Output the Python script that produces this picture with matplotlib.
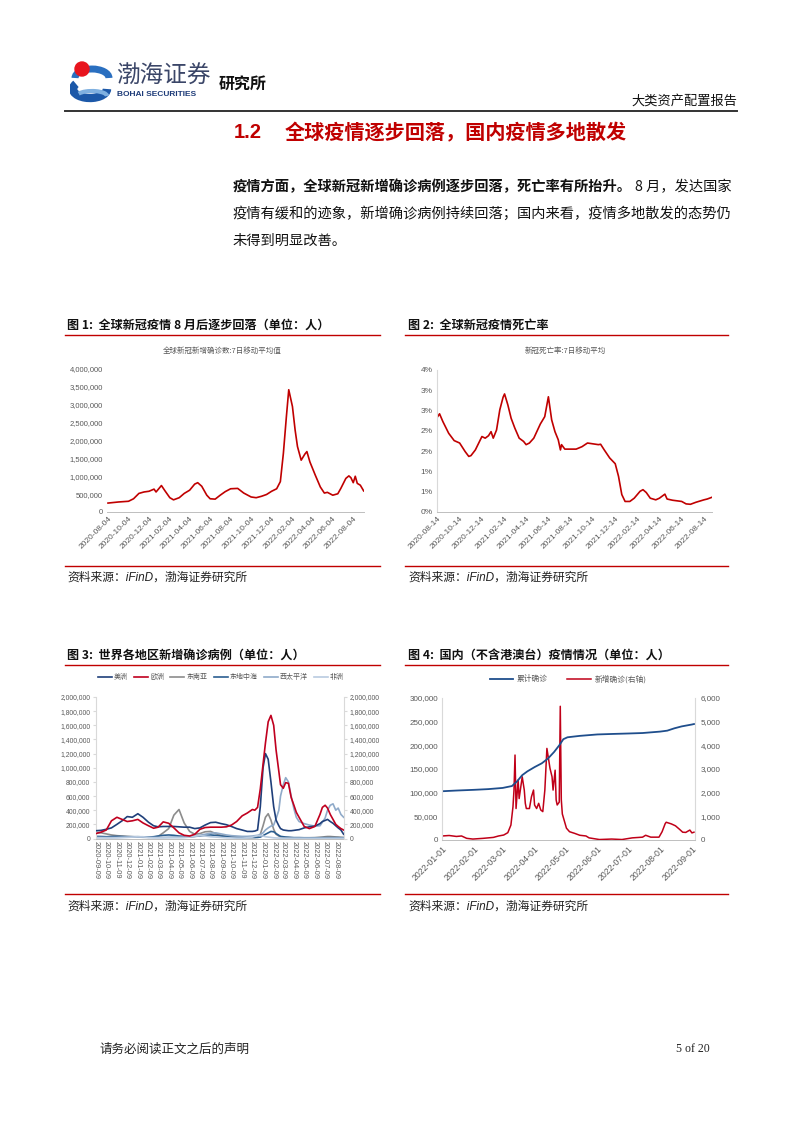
import matplotlib
matplotlib.use('Agg')
import matplotlib.pyplot as plt
from matplotlib.lines import Line2D
from matplotlib.patches import Circle, Arc
from matplotlib.ticker import FuncFormatter, MultipleLocator
import numpy as np
import pandas as pd

plt.rcParams['font.family'] = ['Liberation Sans', 'Noto Sans CJK SC', 'DejaVu Sans']
CJK = ['Noto Sans CJK SC', 'Liberation Sans', 'DejaVu Sans']

# ---------------- data ----------------
# chart 1: global new cases, 7d avg (thousands)
c1_dates = ['2020-08-04', '2020-09-04', '2020-10-04', '2020-10-19', '2020-11-04', '2020-11-19',
            '2020-12-04', '2020-12-19', '2020-12-25', '2021-01-10', '2021-01-20', '2021-02-04',
            '2021-02-15', '2021-03-04', '2021-03-19', '2021-04-04', '2021-04-19', '2021-04-28',
            '2021-05-10', '2021-05-25', '2021-06-04', '2021-06-19', '2021-07-04', '2021-07-19',
            '2021-08-04', '2021-08-25', '2021-09-12', '2021-10-04', '2021-10-19', '2021-11-04',
            '2021-11-19', '2021-12-04', '2021-12-19', '2021-12-30', '2022-01-08', '2022-01-17',
            '2022-01-24', '2022-02-04', '2022-02-12', '2022-02-19', '2022-03-02', '2022-03-13',
            '2022-03-19', '2022-03-28', '2022-04-13', '2022-04-28', '2022-05-10', '2022-05-19',
            '2022-06-04', '2022-06-19', '2022-06-28', '2022-07-13', '2022-07-22', '2022-07-28',
            '2022-08-04', '2022-08-10', '2022-08-16', '2022-08-25', '2022-09-04']
c1_cases = [250, 280, 300, 370, 520, 560, 580, 640, 560, 740, 600, 400, 340, 400, 520, 610, 780, 820,
            720, 470, 370, 360, 470, 570, 650, 660, 530, 420, 400, 440, 490, 580, 650, 850, 1640,
            2670, 3420, 2950, 2290, 1830, 1450, 1620, 1690, 1400, 1030, 700, 530, 550, 470, 510, 660,
            940, 1010, 960, 820, 1000, 800, 750, 590]
c1_ticks = ['2020-08-04', '2020-10-04', '2020-12-04', '2021-02-04', '2021-04-04', '2021-06-04',
            '2021-08-04', '2021-10-04', '2021-12-04', '2022-02-04', '2022-04-04', '2022-06-04',
            '2022-08-04']

# chart 2: death rate, 7d avg (%)
c2_dates = ['2020-08-14', '2020-08-20', '2020-08-29', '2020-09-14', '2020-09-29', '2020-10-14',
            '2020-10-29', '2020-11-08', '2020-11-14', '2020-11-26', '2020-12-14', '2020-12-23',
            '2021-01-01', '2021-01-08', '2021-01-14', '2021-01-23', '2021-02-01', '2021-02-10',
            '2021-02-14', '2021-02-23', '2021-03-04', '2021-03-14', '2021-03-26', '2021-04-07',
            '2021-04-14', '2021-04-23', '2021-05-05', '2021-05-23', '2021-06-04', '2021-06-14',
            '2021-06-23', '2021-07-02', '2021-07-11', '2021-07-17', '2021-07-20', '2021-07-29',
            '2021-08-14', '2021-08-29', '2021-09-14', '2021-09-29', '2021-10-14', '2021-10-29',
            '2021-11-04', '2021-11-14', '2021-11-29', '2021-12-14', '2021-12-23', '2022-01-01',
            '2022-01-10', '2022-01-23', '2022-02-04', '2022-02-20', '2022-02-28', '2022-03-09',
            '2022-03-20', '2022-04-04', '2022-04-14', '2022-04-23', '2022-04-29', '2022-05-05',
            '2022-05-20', '2022-06-14', '2022-06-26', '2022-07-08', '2022-07-23', '2022-08-14',
            '2022-08-23', '2022-09-04']
c2_rate = [2.34, 2.42, 2.23, 1.94, 1.76, 1.70, 1.49, 1.37, 1.39, 1.53, 1.86, 1.82, 1.88, 1.98, 1.82,
           2.02, 2.52, 2.83, 2.91, 2.64, 2.31, 2.07, 1.82, 1.74, 1.66, 1.70, 1.82, 2.17, 2.35, 2.84,
           2.27, 1.98, 1.78, 1.53, 1.66, 1.55, 1.55, 1.55, 1.61, 1.70, 1.68, 1.66, 1.67, 1.53, 1.33,
           1.19, 0.88, 0.43, 0.26, 0.26, 0.34, 0.51, 0.55, 0.48, 0.34, 0.30, 0.34, 0.40, 0.44, 0.32,
           0.29, 0.26, 0.20, 0.19, 0.24, 0.30, 0.32, 0.36]
c2_ticks = ['2020-08-14', '2020-10-14', '2020-12-14', '2021-02-14', '2021-04-14', '2021-06-14',
            '2021-08-14', '2021-10-14', '2021-12-14', '2022-02-14', '2022-04-14', '2022-06-14',
            '2022-08-14']

# chart 3: new cases by WHO region (thousands)
c3_dates = ['2020-09-09', '2020-09-24', '2020-10-09', '2020-10-24', '2020-11-09', '2020-11-24',
            '2020-12-09', '2020-12-24', '2021-01-09', '2021-01-24', '2021-02-09', '2021-02-24',
            '2021-03-09', '2021-03-24', '2021-04-09', '2021-04-24', '2021-05-09', '2021-05-24',
            '2021-06-09', '2021-06-24', '2021-07-09', '2021-07-24', '2021-08-09', '2021-08-24',
            '2021-09-09', '2021-09-24', '2021-10-09', '2021-10-24', '2021-11-09', '2021-11-24',
            '2021-12-09', '2021-12-16', '2021-12-24', '2022-01-01', '2022-01-09', '2022-01-16',
            '2022-01-24', '2022-02-01', '2022-02-09', '2022-02-16', '2022-02-24', '2022-03-01',
            '2022-03-09', '2022-03-16', '2022-03-24', '2022-04-01', '2022-04-09', '2022-04-16',
            '2022-04-24', '2022-05-09', '2022-05-24', '2022-06-09', '2022-06-24', '2022-07-01',
            '2022-07-09', '2022-07-16', '2022-07-24', '2022-08-01', '2022-08-09', '2022-08-16',
            '2022-08-24', '2022-09-01']
c3_americas = [110, 115, 130, 150, 200, 250, 310, 300, 350, 300, 230, 180, 165, 170, 170, 170, 165,
               160, 160, 140, 150, 190, 225, 230, 210, 195, 170, 140, 120, 100, 100,
               105, 120, 450, 1000, 1200, 1120, 800, 450, 260, 180, 140, 120, 115, 110, 110, 115, 120, 125,
               150, 165, 175, 210,
               240, 255, 270, 240, 215, 180, 150, 120, 60]
c3_europe = [70, 90, 120, 250, 300, 270, 240, 250, 270, 220, 180, 145, 160, 235, 215, 150, 80, 45,
             35, 60, 130, 155, 160, 160, 160, 165, 190, 240, 320, 360, 410,
             400, 440, 700, 1050, 1350, 1650, 1740, 1600, 1250, 950, 760, 710, 790, 780, 580, 470, 370, 300,
             170, 140, 170, 340,
             440, 470, 430, 340, 270, 200, 170, 140, 120]
c3_seasia = [85, 80, 65, 50, 40, 35, 30, 25, 20, 18, 18, 20, 30, 80, 140, 330, 410, 220, 100, 60,
             70, 95, 100, 70, 45, 35, 25, 20, 15, 15, 15,
             15, 20, 60, 180, 300, 350, 260, 130, 60, 35, 25, 20, 15, 12, 10, 10, 10, 10,
             10, 10, 12, 18,
             20, 25, 28, 28, 25, 22, 20, 18, 15]
c3_emed = [30, 28, 25, 28, 30, 28, 25, 25, 25, 22, 20, 25, 35, 45, 50, 45, 35, 30, 25, 30, 35, 45,
           50, 45, 35, 28, 20, 15, 15, 15, 15,
           15, 15, 20, 40, 60, 80, 100, 95, 70, 45, 30, 25, 20, 18, 15, 12, 12, 12,
           10, 10, 10, 10,
           12, 12, 12, 12, 12, 12, 12, 10, 10]
c3_wpac = [15, 15, 15, 15, 15, 18, 20, 20, 20, 18, 15, 15, 15, 15, 18, 20, 20, 20, 25, 30, 45, 60,
           75, 80, 65, 50, 40, 35, 30, 30, 35,
           40, 45, 55, 80, 120, 150, 175, 190, 280, 400, 600, 760, 860, 800, 600, 420, 300, 240,
           210, 190, 175, 180,
           230, 290, 400, 470, 490, 400, 430, 340, 300]
c3_africa = [10, 10, 8, 8, 10, 12, 15, 20, 25, 25, 15, 10, 10, 10, 10, 10, 10, 12, 20, 35, 40, 35,
             25, 20, 15, 10, 8, 6, 6, 10, 20,
             30, 40, 40, 35, 25, 20, 15, 10, 8, 6, 5, 5, 5, 5, 5, 5, 5, 5,
             5, 5, 5, 5,
             5, 5, 5, 5, 5, 5, 5, 5, 5]
c3_names = ['美洲', '欧洲', '东南亚', '东地中海', '西太平洋', '非洲']
c3_ticks = ['2020-09-09', '2020-10-09', '2020-11-09', '2020-12-09', '2021-01-09', '2021-02-09',
            '2021-03-09', '2021-04-09', '2021-05-09', '2021-06-09', '2021-07-09', '2021-08-09',
            '2021-09-09', '2021-10-09', '2021-11-09', '2021-12-09', '2022-01-09', '2022-02-09',
            '2022-03-09', '2022-04-09', '2022-05-09', '2022-06-09', '2022-07-09', '2022-08-09']

# chart 4: mainland China
c4_total_dates = ['2022-01-01', '2022-01-15', '2022-02-01', '2022-02-15', '2022-03-01', '2022-03-10',
                  '2022-03-15', '2022-03-20', '2022-03-25', '2022-04-01', '2022-04-08', '2022-04-14',
                  '2022-04-20', '2022-04-25', '2022-04-29', '2022-05-03', '2022-05-15', '2022-06-01',
                  '2022-06-15', '2022-07-01', '2022-07-15', '2022-08-01', '2022-08-08', '2022-08-15',
                  '2022-08-22', '2022-09-01', '2022-09-03']
c4_total = [103, 104.5, 106, 107.5, 110, 114, 124, 137, 145, 154, 162, 172, 186, 200, 213, 217, 220,
            223, 224, 225, 226, 229, 231, 236, 240, 244, 245]
c4_new_dates = ['2022-01-01', '2022-01-08', '2022-01-15', '2022-01-20', '2022-01-25', '2022-01-31',
                '2022-02-10', '2022-02-20', '2022-02-25', '2022-03-02', '2022-03-06', '2022-03-09',
                '2022-03-11', '2022-03-12', '2022-03-13', '2022-03-14', '2022-03-16', '2022-03-17',
                '2022-03-20', '2022-03-22', '2022-03-23', '2022-03-24', '2022-03-27', '2022-03-29',
                '2022-03-31', '2022-04-01', '2022-04-03', '2022-04-05', '2022-04-07', '2022-04-09',
                '2022-04-11', '2022-04-13', '2022-04-15', '2022-04-16', '2022-04-18', '2022-04-19',
                '2022-04-21', '2022-04-22', '2022-04-23', '2022-04-25', '2022-04-26', '2022-04-27',
                '2022-04-28', '2022-04-30', '2022-05-02', '2022-05-05', '2022-05-10', '2022-05-15',
                '2022-05-21', '2022-05-24', '2022-06-03', '2022-06-15', '2022-06-25', '2022-07-05',
                '2022-07-15', '2022-07-18', '2022-07-23', '2022-07-31', '2022-08-03', '2022-08-06',
                '2022-08-07', '2022-08-12', '2022-08-16', '2022-08-20', '2022-08-23', '2022-08-26',
                '2022-08-30', '2022-09-01', '2022-09-03']
c4_new = [170, 190, 150, 170, 70, 40, 70, 110, 170, 210, 310, 630, 1400, 2110, 3590, 1330, 2530,
          1750, 2670, 2110, 1550, 1330, 1330, 1830, 2110, 1480, 1330, 1550, 1270, 1200, 2110, 3870,
          3310, 3030, 2670, 2110, 2950, 1690, 1480, 1600, 5650, 1700, 1100, 800, 500, 350, 280, 200,
          170, 90, 20, 40, 20, 90, 120, 200, 120, 120, 350, 690, 750, 680, 600, 450, 330, 320, 420,
          300, 330]
c4_ticks = ['2022-01-01', '2022-02-01', '2022-03-01', '2022-04-01', '2022-05-01', '2022-06-01',
            '2022-07-01', '2022-08-01', '2022-09-01']

# ---------------- page ----------------
W, H = 802, 1133
fig = plt.figure(figsize=(W / 100, H / 100), dpi=100)

def px_axes(l, t, r, b):
    return fig.add_axes([l / W, 1 - b / H, (r - l) / W, (b - t) / H])

def ftext(x, y, s, **kw):
    return fig.text(x / W, 1 - y / H, s, **kw)

def hline(x0, x1, y, color, lw):
    fig.add_artist(Line2D([x0 / W, x1 / W], [1 - y / H, 1 - y / H], color=color, lw=lw))

RED = '#C00000'
GRAY = '#595959'
thousands = FuncFormatter(lambda v, p: f'{v:,.0f}')

# header
logo = px_axes(70, 56, 114, 104)
logo.set_xlim(0, 44)
logo.set_ylim(48, 0)
logo.axis('off')
logo.add_patch(Arc((22, 22), 34, 18, theta1=180, theta2=360, lw=5, color='#2a6fc0'))
logo.add_patch(Arc((20, 33), 34, 18, theta1=0, theta2=200, lw=6, color='#1c58a8'))
logo.add_patch(Arc((22, 40), 30, 10, theta1=190, theta2=360, lw=3, color='#7fb0e0'))
logo.add_patch(Circle((12, 13), 7, color='#e8141e'))
ftext(116, 76, '渤海证券', fontsize=17, family=CJK, color='#3b4668', va='center')
ftext(117, 94, 'BOHAI SECURITIES', fontsize=6, fontweight='bold', color='#1d3b78', va='center')
ftext(219, 84, '研究所', fontsize=11.5, fontweight='bold', family=CJK, color='#111111', va='center')
ftext(737, 101, '大类资产配置报告', fontsize=9.5, family=CJK, color='#111111', ha='right', va='center')
hline(65, 737, 111, '#333333', 1.4)

# section title and paragraph
ftext(234, 133, '1.2', fontsize=14.5, fontweight='bold', color=RED, va='center')
ftext(285, 133, '全球疫情逐步回落，国内疫情多地散发', fontsize=14.5, fontweight='bold', family=CJK,
      color=RED, va='center')
bold_part = ftext(233, 187, '疫情方面，全球新冠新增确诊病例逐步回落，死亡率有所抬升。', fontsize=10.25,
                  fontweight='bold', family=CJK, color='#111111', va='center')
fig.canvas.draw()
ext = bold_part.get_window_extent(fig.canvas.get_renderer())
ftext(ext.x1 + 3, 187, '8 月，发达国家', fontsize=10.25, family=CJK, color='#111111', va='center')
ftext(233, 214, '疫情有缓和的迹象，新增确诊病例持续回落；国内来看，疫情多地散发的态势仍', fontsize=10.25,
      family=CJK, color='#111111', va='center')
ftext(233, 241, '未得到明显改善。', fontsize=10.25, family=CJK, color='#111111', va='center')

# figure captions and rules
captions = [(67, 325, '图 1:  全球新冠疫情 8 月后逐步回落（单位：人）'),
            (408, 325, '图 2:  全球新冠疫情死亡率'),
            (67, 655, '图 3:  世界各地区新增确诊病例（单位：人）'),
            (408, 655, '图 4:  国内（不含港澳台）疫情情况（单位：人）')]
for x, y, s in captions:
    ftext(x, y, s, fontsize=8.7, fontweight='bold', family=CJK, color='#111111', va='center')
for x0, x1 in [(65, 380), (405, 728)]:
    for y in (335, 566, 665, 894):
        hline(x0, x1, y, RED, 1.0)
for x in (67, 408):
    for y in (578, 907):
        ftext(x, y, '资料来源：iFinD，渤海证券研究所', fontsize=8.5, style='italic', color='#222222',
              va='center')

def style_axes(ax, left_spine=False):
    for s in ['top', 'right']:
        ax.spines[s].set_visible(False)
    ax.spines['left'].set_visible(left_spine)
    ax.spines['left'].set_color('#d9d9d9')
    ax.spines['bottom'].set_color('#bfbfbf')
    ax.spines['bottom'].set_linewidth(0.7)
    ax.tick_params(length=0, labelsize=5.5, labelcolor=GRAY, pad=3)

# chart 1
ax1 = px_axes(107, 369, 364, 512)
ax1.plot(pd.to_datetime(c1_dates), np.array(c1_cases) * 1000, color=RED, lw=1.2)
ax1.set_ylim(0, 4000000)
ax1.yaxis.set_major_locator(MultipleLocator(500000))
ax1.yaxis.set_major_formatter(thousands)
ax1.set_xlim(pd.Timestamp('2020-08-01'), pd.Timestamp('2022-09-05'))
ax1.set_xticks(pd.to_datetime(c1_ticks))
ax1.set_xticklabels(c1_ticks, rotation=45, ha='right', rotation_mode='anchor')
style_axes(ax1)
ax1.tick_params(axis='x', pad=2, labelsize=6)
ftext(222, 351, '全球新冠新增确诊数:7日移动平均值', fontsize=5.4, family=CJK, color=GRAY,
      ha='center', va='center')

# chart 2
ax2 = px_axes(437, 370, 712, 512)
ax2.plot(pd.to_datetime(c2_dates), np.array(c2_rate) / 100, color=RED, lw=1.2)
ax2.set_ylim(0, 0.035)
ax2.yaxis.set_major_locator(MultipleLocator(0.005))
ax2.yaxis.set_major_formatter(FuncFormatter(lambda v, p: f'{int(np.floor(v * 100 + 0.5 + 1e-9))}%'))
ax2.set_xlim(pd.Timestamp('2020-08-13'), pd.Timestamp('2022-09-05'))
ax2.set_xticks(pd.to_datetime(c2_ticks))
ax2.set_xticklabels(c2_ticks, rotation=45, ha='right', rotation_mode='anchor')
style_axes(ax2, left_spine=True)
ax2.tick_params(axis='x', pad=2, labelsize=6)
ax2.tick_params(axis='y', labelsize=6)
ftext(565, 351, '新冠死亡率:7日移动平均', fontsize=5.4, family=CJK, color=GRAY,
      ha='center', va='center')

# chart 3
ax3 = px_axes(96, 697, 344, 838.5)
c3_x = pd.to_datetime(c3_dates)
c3_series = [c3_americas, c3_europe, c3_seasia, c3_emed, c3_wpac, c3_africa]
c3_colors = ['#1f3f7a', '#c0001f', '#8c8c8c', '#2b5f91', '#8faac9', '#b9cbe0']
handles = []
for vals, col, name in zip(c3_series, c3_colors, c3_names):
    ln, = ax3.plot(c3_x, np.array(vals) * 1000, color=col, lw=1.2, label=name)
    handles.append(ln)
handles[1].set_zorder(4)
handles[0].set_zorder(3.5)
ax3.set_ylim(0, 2000000)
ax3.yaxis.set_major_locator(MultipleLocator(200000))
ax3.yaxis.set_major_formatter(thousands)
ax3.set_xlim(pd.Timestamp('2020-09-09'), pd.Timestamp('2022-09-02'))
ax3.set_xticks(pd.to_datetime(c3_ticks))
ax3.set_xticklabels(c3_ticks, rotation=270, ha='center', va='top')
style_axes(ax3, left_spine=True)
ax3.tick_params(labelsize=4.9, pad=2)
ax3.tick_params(axis='x', labelsize=5.3)
ax3.tick_params(axis='y', length=2, color='#d9d9d9')
ax3r = ax3.twinx()
ax3r.set_ylim(0, 2000000)
ax3r.yaxis.set_major_locator(MultipleLocator(200000))
ax3r.yaxis.set_major_formatter(thousands)
for s in ['top', 'left', 'bottom']:
    ax3r.spines[s].set_visible(False)
ax3r.spines['right'].set_color('#d9d9d9')
ax3r.tick_params(labelsize=4.9, labelcolor=GRAY, length=2, color='#d9d9d9', pad=2)
ax3.legend(handles=handles, loc='center', bbox_to_anchor=(221 / W, 1 - 677 / H),
           bbox_transform=fig.transFigure, ncol=6, frameon=False, handlelength=2.0,
           handletextpad=0.3, columnspacing=0.9, labelcolor=GRAY, prop={'family': CJK, 'size': 5})

# chart 4
ax4 = px_axes(442, 698, 695, 840)
b4, = ax4.plot(pd.to_datetime(c4_total_dates), np.array(c4_total) * 1000, color='#1f4e8c', lw=1.3,
               label='累计确诊')
ax4.set_ylim(0, 300000)
ax4.yaxis.set_major_locator(MultipleLocator(50000))
ax4.yaxis.set_major_formatter(thousands)
ax4.set_xlim(pd.Timestamp('2022-01-01'), pd.Timestamp('2022-09-04'))
ax4.set_xticks(pd.to_datetime(c4_ticks))
ax4.set_xticklabels(c4_ticks, rotation=45, ha='right', rotation_mode='anchor')
style_axes(ax4, left_spine=True)
ax4.tick_params(labelsize=5.8, pad=3)
ax4.tick_params(axis='x', labelsize=6.3)
ax4r = ax4.twinx()
r4, = ax4r.plot(pd.to_datetime(c4_new_dates), c4_new, color='#c00018', lw=1.1, label='新增确诊(右轴)')
ax4r.set_ylim(0, 6000)
ax4r.yaxis.set_major_locator(MultipleLocator(1000))
ax4r.yaxis.set_major_formatter(thousands)
for s in ['top', 'left', 'bottom']:
    ax4r.spines[s].set_visible(False)
ax4r.spines['right'].set_color('#d9d9d9')
ax4r.tick_params(labelsize=5.8, labelcolor=GRAY, length=0, pad=4)
ax4.set_zorder(ax4r.get_zorder() + 1)
ax4.patch.set_visible(False)
ax4.legend(handles=[b4, r4], loc='center', bbox_to_anchor=(568 / W, 1 - 679 / H),
           bbox_transform=fig.transFigure, ncol=2, frameon=False, handlelength=3,
           handletextpad=0.5, columnspacing=2.5, labelcolor=GRAY, prop={'family': CJK, 'size': 5.6})

# footer
ftext(100, 1049, '请务必阅读正文之后的声明', fontsize=9, family=CJK, color='#222222', va='center')
ftext(710, 1049, '5 of 20', fontsize=8.5, family='Liberation Serif', color='#222222', ha='right',
      va='center')

fig.savefig('out.png', dpi=100)
